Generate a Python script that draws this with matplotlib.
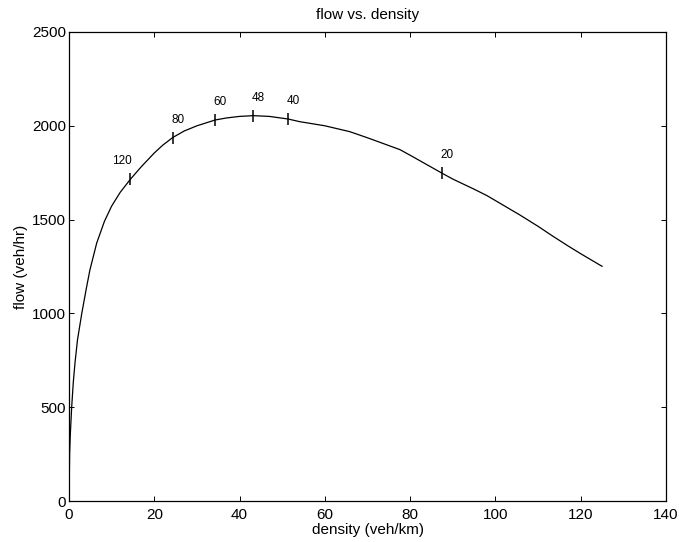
import matplotlib
matplotlib.use('Agg')
import matplotlib.pyplot as plt

# flow-density curve
density = [0, 0.15, 0.3, 0.63, 1.0, 1.4, 2.0, 3.0, 4.0, 4.9, 6.5, 8.3, 10,
           12, 14.4, 17, 20, 22, 24.3, 27, 30, 34.3, 37, 40, 43.2, 47, 51.4,
           54.1, 60, 65.8, 70, 77.6, 80, 87.5, 90, 95, 98, 105.7, 110, 113.5,
           117, 120, 125]
flow = [0, 254, 350, 500, 630, 734, 860, 1000, 1125, 1231, 1375, 1490, 1572,
        1645, 1715, 1783, 1855, 1897, 1937, 1972, 2000, 2031, 2042, 2050,
        2054, 2050, 2036, 2022, 2000, 1969, 1936, 1873, 1843, 1747, 1716,
        1662, 1628, 1525, 1464, 1411, 1360, 1318, 1251]

# speed marks along the curve (km/h)
mark_speed = ['120', '80', '60', '48', '40', '20']
mark_density = [14.4, 24.3, 34.3, 43.2, 51.4, 87.5]
mark_flow = [1715, 1937, 2031, 2054, 2036, 1747]

plt.rcParams['font.family'] = ['Liberation Sans', 'DejaVu Sans']

fig = plt.figure(figsize=(6.79, 5.42), dpi=100)
ax = fig.add_axes([0.1016, 0.0756, 0.8793, 0.8654])

ax.plot(density, flow, color='black', linewidth=0.9)
ax.plot(mark_density, mark_flow, linestyle='none', marker='|',
        markersize=8, markeredgewidth=1.1, color='black')

for lab, d, f in zip(mark_speed, mark_density, mark_flow):
    dx = -18 if lab == '120' else -1.5
    ax.annotate(lab, (d, f), xytext=(dx * 0.72, 13), textcoords='offset points',
                ha='left', va='center', fontsize=8.5)

ax.set_xlim(0, 140)
ax.set_ylim(0, 2500)
ax.set_xticks(range(0, 141, 20))
ax.set_yticks(range(0, 2501, 500))
ax.tick_params(direction='in', length=3.6, width=0.7, top=True, right=True,
               labelsize=11)
ax.tick_params(axis='x', pad=5)
ax.tick_params(axis='y', pad=2)
for s in ax.spines.values():
    s.set_linewidth(0.9)

ax.set_title('flow vs. density', fontsize=11, pad=9)
ax.set_xlabel('density (veh/km)', fontsize=11, labelpad=1)
ax.set_ylabel('flow (veh/hr)', fontsize=11, labelpad=3)

fig.savefig('out.png', dpi=100)
